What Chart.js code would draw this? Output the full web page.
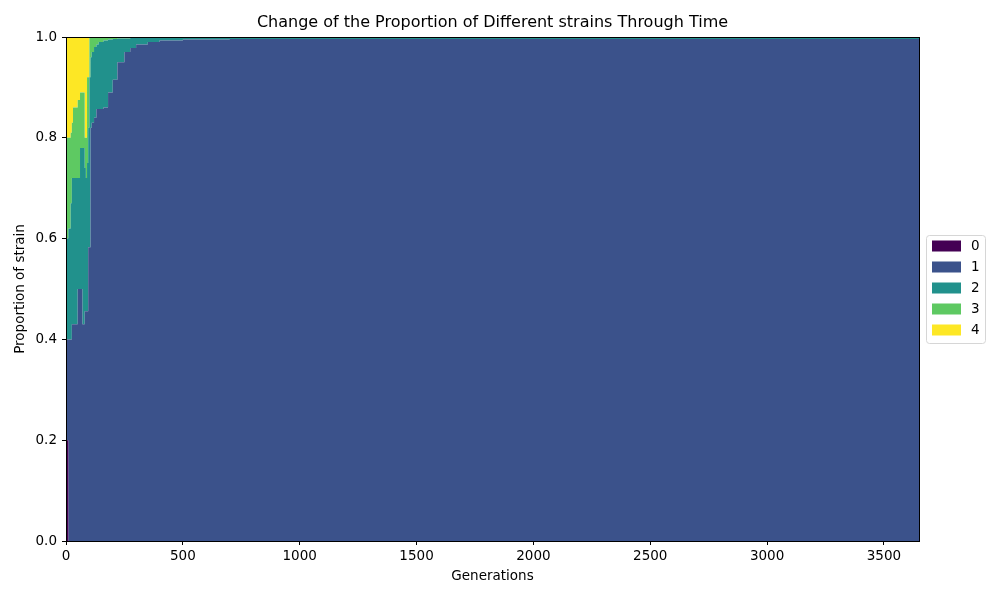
<!DOCTYPE html>
<html>
<head>
<meta charset="utf-8">
<script src="https://cdn.jsdelivr.net/npm/chart.js@4/dist/chart.umd.min.js"></script>
<style>
  html, body { margin: 0; padding: 0; background: #fff; }
  #wrap { position: relative; width: 1000px; height: 600px; }
</style>
</head>
<body>
<div id="wrap"><canvas id="c" width="1000" height="600"></canvas></div>
<script>
// Generations sampled (x values)
const generations = [0, 5, 10, 20, 25, 30, 40, 50, 60, 70, 80, 85, 90, 95, 100, 105, 110, 120, 130, 140, 160, 180, 200, 220, 250, 275, 300, 350, 400, 500, 700, 1000, 1500, 2000, 2500, 3000, 3500, 3650];

// Proportion of each strain at those generations
const strain0 = [0.2, 0.2, 0, 0, 0, 0, 0, 0, 0, 0, 0, 0, 0, 0, 0, 0, 0, 0, 0, 0, 0, 0, 0, 0, 0, 0, 0, 0, 0, 0, 0, 0, 0, 0, 0, 0, 0, 0];
const strain1 = [0.2, 0.2, 0.4, 0.4, 0.43, 0.43, 0.43, 0.5, 0.5, 0.43, 0.456, 0.456, 0.456, 0.583, 0.583, 0.82, 0.83, 0.84, 0.857, 0.857, 0.86, 0.89, 0.915, 0.95, 0.97, 0.978, 0.985, 0.99, 0.993, 0.995, 0.996, 0.996, 0.996, 0.996, 0.996, 0.996, 0.996, 0.996];
const strain2 = [0.2, 0.2, 0.22, 0.27, 0.29, 0.29, 0.29, 0.22, 0.28, 0.35, 0.284, 0.264, 0.294, 0.237, 0.337, 0.14, 0.14, 0.14, 0.128, 0.133, 0.133, 0.105, 0.081, 0.047, 0.027, 0.02, 0.013, 0.008, 0.005, 0.003, 0.002, 0.002, 0.002, 0.002, 0.002, 0.002, 0.002, 0.002];
const strain3 = [0.2, 0.2, 0.18, 0.14, 0.11, 0.14, 0.14, 0.155, 0.11, 0.11, 0.06, 0.08, 0.17, 0.10, 0.08, 0.04, 0.03, 0.02, 0.015, 0.01, 0.006, 0.004, 0.003, 0.002, 0.002, 0.001, 0.001, 0.001, 0.001, 0.001, 0.001, 0.001, 0.001, 0.001, 0.001, 0.001, 0.001, 0.001];
const strain4 = [0.2, 0.2, 0.2, 0.19, 0.17, 0.14, 0.14, 0.125, 0.11, 0.11, 0.2, 0.2, 0.08, 0.08, 0, 0, 0, 0, 0, 0, 0.001, 0.001, 0.001, 0.001, 0.001, 0.001, 0.001, 0.001, 0.001, 0.001, 0.001, 0.001, 0.001, 0.001, 0.001, 0.001, 0.001, 0.001];

const strainLabels = ['0', '1', '2', '3', '4'];
const strainColors = ['#440154', '#3b528b', '#21918c', '#5ec962', '#fde725'];
const xTicks = [0, 500, 1000, 1500, 2000, 2500, 3000, 3500];
const yTicks = [0, 0.2, 0.4, 0.6, 0.8, 1.0];

const titleText = 'Change of the Proportion of Different strains Through Time';
const xTitle = 'Generations';
const yTitle = 'Proportion of strain';

const series = [strain0, strain1, strain2, strain3, strain4];
const FONT = 'DejaVu Sans';

const datasets = series.map((vals, i) => ({
  label: strainLabels[i],
  data: generations.map((g, j) => ({ x: g, y: vals[j] })),
  backgroundColor: strainColors[i],
  borderColor: strainColors[i],
  borderWidth: 0,
  pointRadius: 0,
  stepped: 'before',
  fill: i === 0 ? 'origin' : '-1',
  tension: 0
}));

const framePlugin = {
  id: 'frame',
  afterDraw(chart) {
    const { ctx, chartArea: a } = chart;
    ctx.save();
    // frame
    ctx.strokeStyle = '#000';
    ctx.lineWidth = 1;
    ctx.strokeRect(Math.round(a.left) + 0.5, Math.round(a.top) + 0.5, Math.round(a.right - a.left), Math.round(a.bottom - a.top));
    // title
    ctx.fillStyle = '#000';
    ctx.font = '16px "' + FONT + '"';
    ctx.textAlign = 'center';
    ctx.textBaseline = 'middle';
    ctx.fillText(titleText, (a.left + a.right) / 2, 23);
    // legend
    const lx = 926.5, ly = 235.5, lw = 59, lh = 108;
    ctx.fillStyle = 'rgba(255,255,255,0.8)';
    ctx.strokeStyle = '#d6d6d6';
    ctx.lineWidth = 1;
    const r = 3;
    ctx.beginPath();
    ctx.moveTo(lx + r, ly);
    ctx.lineTo(lx + lw - r, ly);
    ctx.quadraticCurveTo(lx + lw, ly, lx + lw, ly + r);
    ctx.lineTo(lx + lw, ly + lh - r);
    ctx.quadraticCurveTo(lx + lw, ly + lh, lx + lw - r, ly + lh);
    ctx.lineTo(lx + r, ly + lh);
    ctx.quadraticCurveTo(lx, ly + lh, lx, ly + lh - r);
    ctx.lineTo(lx, ly + r);
    ctx.quadraticCurveTo(lx, ly, lx + r, ly);
    ctx.closePath();
    ctx.fill();
    ctx.stroke();
    ctx.font = '13.5px "' + FONT + '"';
    ctx.textAlign = 'left';
    ctx.textBaseline = 'middle';
    chart.data.datasets.forEach((ds, i) => {
      const cy = 246 + i * 21;
      ctx.fillStyle = ds.backgroundColor;
      ctx.fillRect(932, cy - 5.5, 29, 11);
      ctx.fillStyle = '#000';
      ctx.fillText(ds.label, 971, cy + 0.5);
    });
    ctx.restore();
  }
};

new Chart(document.getElementById('c'), {
  type: 'line',
  data: { datasets },
  plugins: [framePlugin],
  options: {
    responsive: false,
    animation: false,
    devicePixelRatio: 1,
    layout: { padding: { top: 37, right: 81, left: 0, bottom: 0 } },
    plugins: {
      legend: { display: false },
      title: { display: false },
      tooltip: { enabled: false },
      filler: { propagate: false }
    },
    elements: { line: { borderWidth: 0 } },
    scales: {
      x: {
        type: 'linear',
        min: 0,
        max: 3650,
        afterFit(s) { s.height = 59; },
        afterBuildTicks(s) { s.ticks = xTicks.map(v => ({ value: v })); },
        ticks: {
          color: '#000',
          font: { family: FONT, size: 13.5 },
          padding: 3,
          maxRotation: 0,
          callback: v => String(v)
        },
        grid: { display: true, drawOnChartArea: false, drawTicks: true, tickLength: 4, color: '#000' },
        border: { display: true, color: '#000' },
        title: { display: true, text: xTitle, color: '#000', font: { family: FONT, size: 13.5 }, padding: { top: 2, bottom: 15 } }
      },
      y: {
        type: 'linear',
        stacked: true,
        min: 0,
        max: 1,
        afterFit(s) { s.width = 66; },
        afterBuildTicks(s) { s.ticks = yTicks.map(v => ({ value: v })); },
        ticks: {
          color: '#000',
          font: { family: FONT, size: 13.5 },
          padding: 5,
          callback: v => Number(v).toFixed(1)
        },
        grid: { display: true, drawOnChartArea: false, drawTicks: true, tickLength: 4, color: '#000' },
        border: { display: true, color: '#000' },
        title: { display: true, text: yTitle, color: '#000', font: { family: FONT, size: 13.5 }, padding: { top: 12, bottom: 4 } }
      }
    }
  }
});
</script>
</body>
</html>
